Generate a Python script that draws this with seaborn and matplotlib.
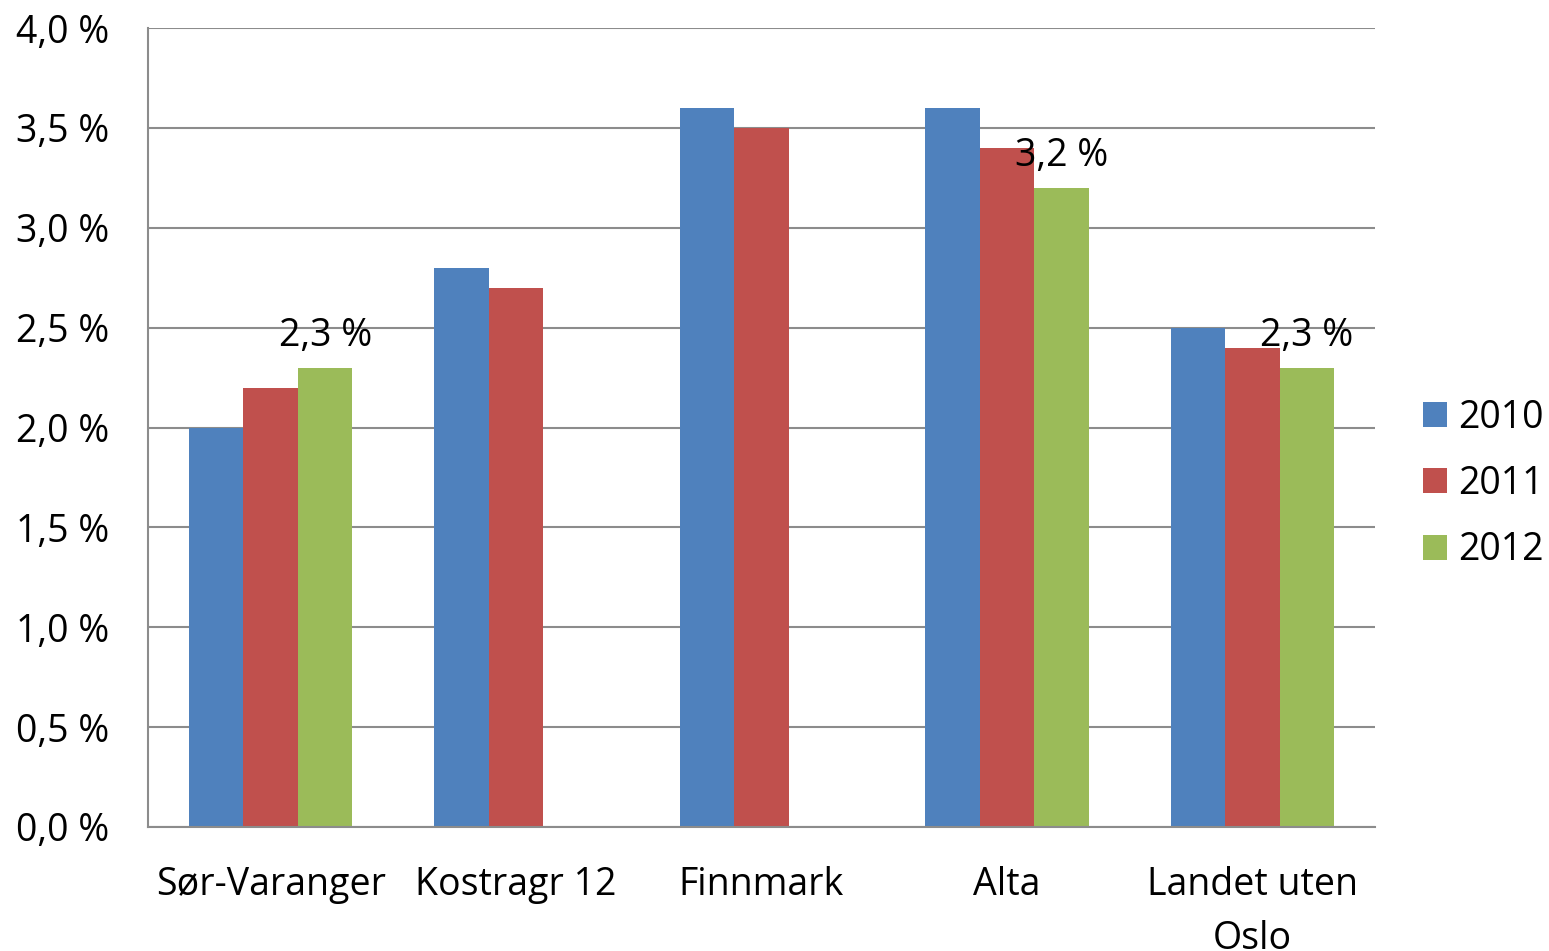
import matplotlib
matplotlib.use("Agg")
import matplotlib.pyplot as plt
import seaborn as sns
import pandas as pd
import numpy as np

categories = ["Sør-Varanger", "Kostragr 12", "Finnmark", "Alta", "Landet uten\nOslo"]
years = ["2010", "2011", "2012"]
v2010 = [2.0, 2.8, 3.6, 3.6, 2.5]
v2011 = [2.2, 2.7, 3.5, 3.4, 2.4]
v2012 = [2.3, np.nan, np.nan, 3.2, 2.3]
labelled_2012 = [0, 3, 4]
colors = ["#4F81BD", "#C0504D", "#9BBB59"]
yticks = [0.0, 0.5, 1.0, 1.5, 2.0, 2.5, 3.0, 3.5, 4.0]

rows = []
for y, vals in zip(years, [v2010, v2011, v2012]):
    for c, v in zip(categories, vals):
        rows.append({"cat": c, "year": y, "val": v})
df = pd.DataFrame(rows)

sns.set_style("white")
plt.rcParams["font.family"] = ["Open Sans", "DejaVu Sans"]
plt.rcParams["text.color"] = "black"
plt.rcParams["xtick.labelcolor"] = "black"
plt.rcParams["ytick.labelcolor"] = "black"

fig = plt.figure(figsize=(15.49, 9.51), dpi=100)
ax = fig.add_axes([148/1549, 1-827/951, (1375-148)/1549, (827-28)/951])

sns.barplot(data=df.dropna(), x="cat", y="val", hue="year", hue_order=years,
            order=categories, palette=colors, width=0.666, saturation=1,
            ax=ax, linewidth=0, errorbar=None)

ax.set_ylim(0, 4.0)
ax.set_xlim(-0.5, 4.5)
ax.set_yticks(yticks)
ax.set_yticklabels([f"{t:.1f}".replace(".", ",") + " %" for t in yticks])
ax.yaxis.grid(True, color="#8C8C8C", linewidth=1.5)
ax.set_axisbelow(True)
ax.set_xlabel("")
ax.set_ylabel("")
for s in ["top", "right"]:
    ax.spines[s].set_visible(False)
for s in ["left", "bottom"]:
    ax.spines[s].set_color("#8C8C8C")
    ax.spines[s].set_linewidth(1.5)
ax.tick_params(axis="y", length=9, width=1.5, color="#8C8C8C", pad=19,
               labelsize=27, labelcolor="black")
ax.tick_params(axis="x", length=0, pad=28, labelsize=27, labelcolor="black")
for lbl in ax.get_xticklabels():
    lbl.set_linespacing(1.55)

# data labels for 2012
bw = 0.666 / 3
for i in labelled_2012:
    x = i + bw
    v = v2012[i]
    ax.annotate(f"{v:.1f}".replace(".", ",") + " %", xy=(x, v), xytext=(0, 9),
                textcoords="offset points", ha="center", va="bottom",
                fontsize=27, color="black")

leg = ax.legend(loc="center left", bbox_to_anchor=(1423/1549, 1-484/951),
                bbox_transform=fig.transFigure, frameon=False, fontsize=27,
                borderpad=0, borderaxespad=0, handlelength=0.64, handleheight=0.64,
                handletextpad=0.3, labelspacing=0.76)
for t in leg.get_texts():
    t.set_color("black")

fig.savefig("out.png", dpi=100)
